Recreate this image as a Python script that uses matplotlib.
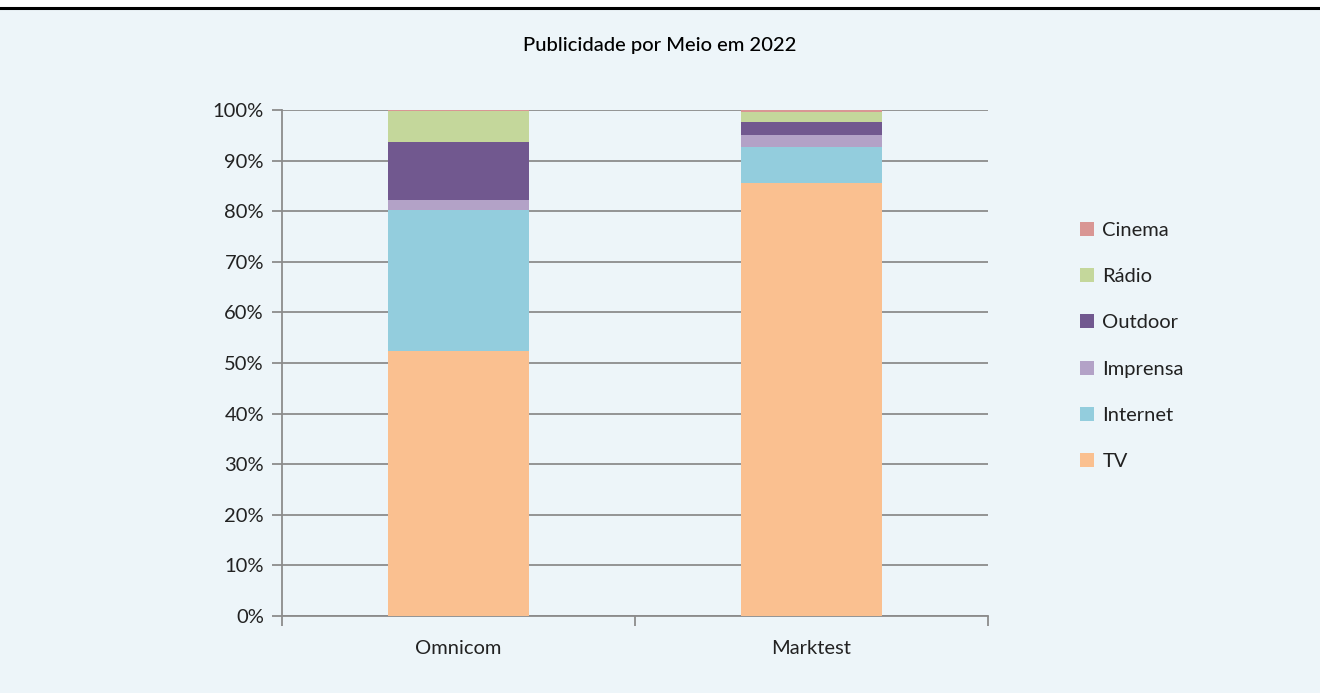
import matplotlib.pyplot as plt
import numpy as np
from matplotlib.ticker import PercentFormatter

empresas = ["Omnicom", "Marktest"]
meios = ["TV", "Internet", "Imprensa", "Outdoor", "Rádio", "Cinema"]
tv = [52.4, 85.6]
internet = [27.8, 7.0]
imprensa = [2.0, 2.5]
outdoor = [11.5, 2.6]
radio = [6.1, 1.9]
cinema = [0.2, 0.4]
cores = ["#FAC090", "#93CDDD", "#B3A2C7", "#71588F", "#C4D79B", "#D99694"]

plt.rcParams["font.family"] = ["Lato", "DejaVu Sans"]
bg = "#EDF5F9"
fig = plt.figure(figsize=(13.2, 6.93), dpi=100, facecolor=bg)
# faixa branca e linha preta no topo
fig.patches.append(plt.Rectangle((0, 1 - 7 / 693), 1, 7 / 693, transform=fig.transFigure,
                                 color="white", zorder=0))
fig.add_artist(plt.Line2D([0, 1], [1 - 8 / 693, 1 - 8 / 693], transform=fig.transFigure,
                          color="black", lw=2.2))

ax = fig.add_axes([282 / 1320, 1 - 616 / 693, 706 / 1320, 506 / 693])
ax.set_facecolor(bg)

x = np.arange(len(empresas))
bottom = np.zeros(len(empresas))
handles = []
for nome, vals, cor in zip(meios, [tv, internet, imprensa, outdoor, radio, cinema], cores):
    h = ax.bar(x, vals, width=0.4, bottom=bottom, color=cor, label=nome, zorder=3)
    handles.append(h)
    bottom += np.array(vals)

ax.set_xlim(-0.5, 1.5)
ax.set_ylim(0, 100)
ax.set_yticks(np.arange(0, 101, 10))
ax.yaxis.set_major_formatter(PercentFormatter(decimals=0))
ax.grid(axis="y", color="#8C8C8C", lw=1.3, zorder=0)
ax.set_xticks(x)
ax.set_xticklabels(empresas)
ax.set_xticks([-0.5, 0.5, 1.5], minor=True)
ax.tick_params(axis="x", which="major", length=0, pad=17, labelsize=14.5, colors="#222222")
ax.tick_params(axis="x", which="minor", length=7, color="#8C8C8C", width=1.3)
ax.tick_params(axis="y", length=7, color="#8C8C8C", width=1.3, labelsize=14.5,
               labelcolor="#222222", pad=6)
for s in ["top", "right"]:
    ax.spines[s].set_visible(False)
ax.spines["left"].set_color("#8C8C8C")
ax.spines["bottom"].set_color("#8C8C8C")
ax.spines["left"].set_linewidth(1.3)
ax.spines["bottom"].set_linewidth(1.3)

fig.text(0.5, 1 - 45 / 693, "Publicidade por Meio em 2022", ha="center", va="center",
         fontsize=14.5, color="black", fontweight="medium")

leg = fig.legend(handles[::-1], meios[::-1], loc="center left",
                 bbox_to_anchor=(1062 / 1320, 1 - 346 / 693), frameon=False,
                 fontsize=14.5, labelspacing=1.45, handlelength=0.7, handleheight=0.7,
                 handletextpad=0.4)
for t in leg.get_texts():
    t.set_color("#222222")

fig.savefig("out.png", dpi=100, facecolor=bg)
